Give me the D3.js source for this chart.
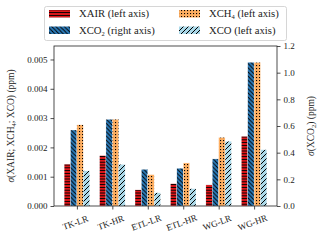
<!DOCTYPE html>
<html>
<head>
<meta charset="utf-8">
<script src="https://cdn.jsdelivr.net/npm/d3@7"></script>
<style>
  body { margin: 0; background: #fff; }
  text { font-family: "Liberation Serif", "Times New Roman", serif; }
</style>
</head>
<body>
<svg id="chart" width="320" height="241"></svg>
<script>
// categories and values
var sites = ["TK-LR", "TK-HR", "ETL-LR", "ETL-HR", "WG-LR", "WG-HR"];
var xair = [0.00143, 0.00172, 0.00055, 0.00076, 0.00072, 0.00238];   // left axis
var xco2 = [0.57, 0.65, 0.275, 0.283, 0.353, 1.078];                  // right axis
var xch4 = [0.00277, 0.00296, 0.00107, 0.00147, 0.00234, 0.0049];    // left axis
var xco  = [0.0012, 0.00142, 0.00045, 0.00059, 0.00221, 0.00192];    // left axis
var leftTicks = [0, 0.001, 0.002, 0.003, 0.004, 0.005];
var rightTicks = [0, 0.2, 0.4, 0.6, 0.8, 1.0, 1.2];

var FONT = "'Liberation Serif', 'Times New Roman', serif";

var svg = d3.select("svg"),
    margin = {top: 46, right: 43, bottom: 35, left: 54},
    width = +svg.attr("width") - margin.left - margin.right,
    height = +svg.attr("height") - margin.top - margin.bottom;

var barW = 0.18;
var x = d3.scaleLinear().domain([-0.646, sites.length - 1 + 0.646]).range([0, width]);
var yL = d3.scaleLinear().domain([0, 0.00546]).range([height, 0]);
var yR = d3.scaleLinear().domain([0, 1.2]).range([height, 0]);

var series = [
  {key: "XAIR", vals: xair, y: yL, fill: "url(#hRed)"},
  {key: "XCO2", vals: xco2, y: yR, fill: "url(#hBlue)"},
  {key: "XCH4", vals: xch4, y: yL, fill: "url(#hOrange)"},
  {key: "XCO",  vals: xco,  y: yL, fill: "url(#hLight)"}
];

// hatch patterns
var defs = svg.append("defs");
function pat(id, w, h, bg) {
  var p = defs.append("pattern").attr("id", id)
    .attr("patternUnits", "userSpaceOnUse").attr("width", w).attr("height", h);
  p.append("rect").attr("width", w).attr("height", h).attr("fill", bg);
  return p;
}
pat("hRed", 4, 2.8, "#e8161b")
  .append("line").attr("x1", 0).attr("x2", 4).attr("y1", 1.4).attr("y2", 1.4)
  .attr("stroke", "#000").attr("stroke-width", 1);
var pb = pat("hBlue", 4.2, 4.2, "#2b7bba");
[[-1, 3.2, 1, 5.2], [0, 0, 4.2, 4.2], [3.2, -1, 5.2, 1]].forEach(function(s) {
  pb.append("line").attr("x1", s[0]).attr("y1", s[1]).attr("x2", s[2]).attr("y2", s[3])
    .attr("stroke", "#000").attr("stroke-width", 1);
});
var po = pat("hOrange", 3, 3, "#fdae61");
po.append("rect").attr("x", 1).attr("y", 1).attr("width", 1.1).attr("height", 1.1).attr("fill", "#000");
var pl = pat("hLight", 5, 5, "#abd9e9");
[[-1, 1, 1, -1], [0, 5, 5, 0], [4, 6, 6, 4]].forEach(function(s) {
  pl.append("line").attr("x1", s[0]).attr("y1", s[1]).attr("x2", s[2]).attr("y2", s[3])
    .attr("stroke", "#000").attr("stroke-width", 1);
});

var g = svg.append("g")
    .attr("transform", "translate(" + margin.left + "," + margin.top + ")");

// bars
series.forEach(function(s, j) {
  g.selectAll(".bar-" + s.key)
    .data(s.vals)
    .enter().append("rect")
    .attr("x", function(d, i) { return x(i + (j - 2) * barW); })
    .attr("width", x(barW) - x(0))
    .attr("y", function(d) { return s.y(d); })
    .attr("height", function(d) { return height - s.y(d); })
    .attr("fill", s.fill)
    .attr("stroke", "#fff").attr("stroke-width", 0.3);
});

// frame
g.append("rect").attr("width", width).attr("height", height)
  .attr("fill", "none").attr("stroke", "#222").attr("stroke-width", 0.8);

// axes
var fs = "9px";
var axL = g.append("g")
  .call(d3.axisLeft(yL).tickValues(leftTicks).tickFormat(d3.format(".3f")).tickSize(3.5).tickPadding(3));
var axR = g.append("g").attr("transform", "translate(" + width + ",0)")
  .call(d3.axisRight(yR).tickValues(rightTicks).tickFormat(d3.format(".1f")).tickSize(3.5).tickPadding(3));
var axB = g.append("g").attr("transform", "translate(0," + height + ")")
  .call(d3.axisBottom(x).tickValues(d3.range(sites.length)).tickFormat(function(i) { return sites[i]; }).tickSize(3.5).tickPadding(3));
[axL, axR, axB].forEach(function(a) {
  a.attr("font-family", FONT).attr("font-size", fs);
  a.select(".domain").remove();
  a.selectAll("line").attr("stroke", "#222").attr("stroke-width", 0.8);
  a.selectAll("text").attr("font-family", FONT).attr("font-size", fs).attr("fill", "#222");
});
axB.selectAll("text")
  .attr("text-anchor", "middle")
  .attr("dy", null).attr("y", 0)
  .attr("transform", "translate(-1,19.5) rotate(-20)");

// axis labels
function sigmaLabel(sel, parts) {
  parts.forEach(function(p) {
    var t = sel.append("tspan").text(p[0]);
    if (p[1]) t.attr("font-size", "6.5px").attr("dy", 2);
    else if (p[2]) t.attr("dy", -2);
  });
}
var ll = svg.append("text")
  .attr("transform", "translate(14," + (margin.top + height / 2) + ") rotate(-90)")
  .attr("text-anchor", "middle").attr("font-family", FONT).attr("font-size", "9.5px").attr("fill", "#222");
ll.append("tspan").attr("font-style", "italic").text("σ");
sigmaLabel(ll, [["(XAIR; XCH"], ["4", true], ["; XCO) (ppm)", false, true]]);

var rl = svg.append("text")
  .attr("transform", "translate(314," + (margin.top + height / 2) + ") rotate(-90)")
  .attr("text-anchor", "middle").attr("font-family", FONT).attr("font-size", "9.5px").attr("fill", "#222");
rl.append("tspan").attr("font-style", "italic").text("σ");
sigmaLabel(rl, [["(XCO"], ["2", true], [") (ppm)", false, true]]);

// legend
var leg = svg.append("g");
leg.append("rect").attr("x", 44.5).attr("y", 6.5).attr("width", 242).attr("height", 34)
  .attr("rx", 2).attr("fill", "#fff").attr("stroke", "#ccc").attr("stroke-width", 0.8);
var legItems = [
  {s: 0, x: 49, y: 10, parts: [["XAIR (left axis)"]]},
  {s: 1, x: 49, y: 26.5, parts: [["XCO"], ["2", true], [" (right axis)", false, true]]},
  {s: 2, x: 179, y: 10, parts: [["XCH"], ["4", true], [" (left axis)", false, true]]},
  {s: 3, x: 179, y: 26.5, parts: [["XCO (left axis)"]]}
];
legItems.forEach(function(it) {
  leg.append("rect").attr("x", it.x).attr("y", it.y).attr("width", 21).attr("height", 7.5)
    .attr("fill", series[it.s].fill);
  var t = leg.append("text").attr("x", it.x + 30).attr("y", it.y + 7)
    .attr("font-family", FONT).attr("font-size", "10.7px").attr("fill", "#222");
  sigmaLabel(t, it.parts);
});
</script>
</body>
</html>
